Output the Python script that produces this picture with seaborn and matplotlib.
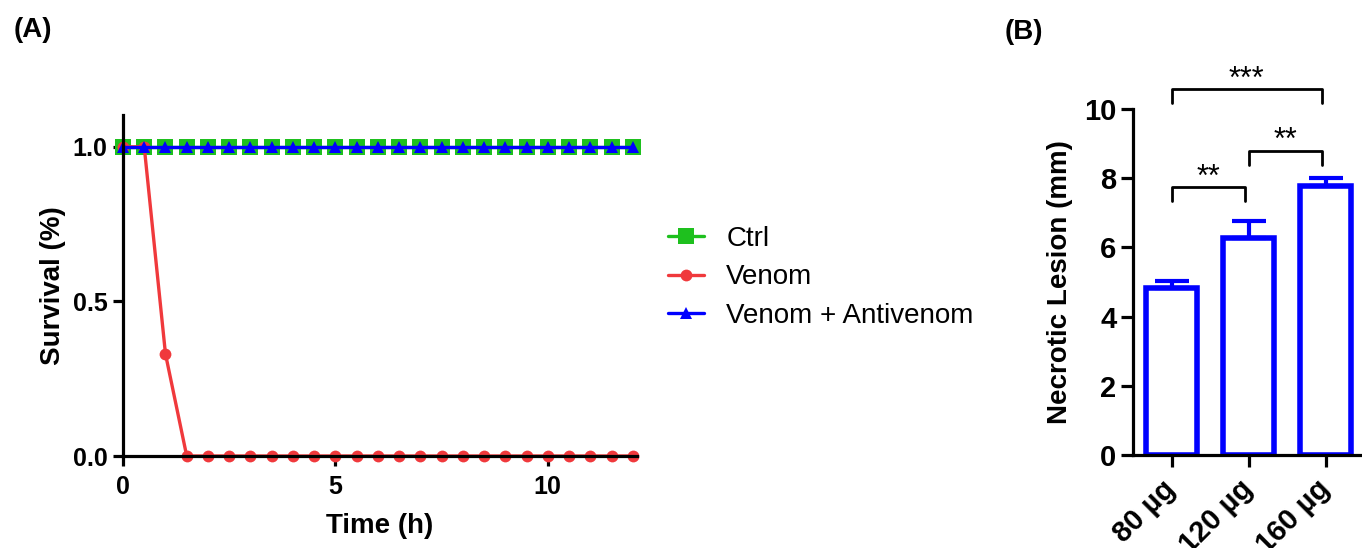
import pandas as pd
import seaborn as sns
import matplotlib.pyplot as plt

# Panel A: survival over time (every 0.5 h)
time_h = [0, 0.5, 1, 1.5, 2, 2.5, 3, 3.5, 4, 4.5, 5, 5.5, 6, 6.5, 7, 7.5,
          8, 8.5, 9, 9.5, 10, 10.5, 11, 11.5, 12]
ctrl = [1.0, 1.0, 1.0, 1.0, 1.0, 1.0, 1.0, 1.0, 1.0, 1.0, 1.0, 1.0, 1.0,
        1.0, 1.0, 1.0, 1.0, 1.0, 1.0, 1.0, 1.0, 1.0, 1.0, 1.0, 1.0]
venom = [1.0, 1.0, 0.33, 0.0, 0.0, 0.0, 0.0, 0.0, 0.0, 0.0, 0.0, 0.0, 0.0,
         0.0, 0.0, 0.0, 0.0, 0.0, 0.0, 0.0, 0.0, 0.0, 0.0, 0.0, 0.0]
venom_antivenom = [1.0, 1.0, 1.0, 1.0, 1.0, 1.0, 1.0, 1.0, 1.0, 1.0, 1.0,
                   1.0, 1.0, 1.0, 1.0, 1.0, 1.0, 1.0, 1.0, 1.0, 1.0, 1.0,
                   1.0, 1.0, 1.0]
groups = ["Ctrl", "Venom", "Venom + Antivenom"]

# Panel B: necrotic lesion by dose
doses = ["80 µg", "120 µg", "160 µg"]
lesion_mean = [4.83, 6.27, 7.77]
lesion_sem = [0.20, 0.49, 0.23]
sig_pairs = [(0, 1), (1, 2), (0, 2)]
sig_labels = ["**", "**", "***"]

sns.set_style("ticks")
plt.rcParams["font.family"] = ["Liberation Sans", "DejaVu Sans"]
plt.rcParams["font.weight"] = "bold"
plt.rcParams["axes.labelweight"] = "bold"
for k in ("text.color", "axes.labelcolor", "xtick.color", "ytick.color",
          "axes.edgecolor"):
    plt.rcParams[k] = "black"

surv = pd.DataFrame({
    "Time": time_h * 3,
    "Survival": ctrl + venom + venom_antivenom,
    "Group": ["Ctrl"] * len(time_h) + ["Venom"] * len(time_h)
             + ["Venom + Antivenom"] * len(time_h),
})
lesion = pd.DataFrame({"Dose": doses, "Lesion": lesion_mean})

fig = plt.figure(figsize=(13.62, 5.48), dpi=100)
axa = fig.add_axes([123 / 1362, 92 / 548, 514 / 1362, 341 / 548])
axb = fig.add_axes([1133 / 1362, 93 / 548, 231 / 1362, 346 / 548])

palette = {"Ctrl": "#1ec01e", "Venom": "#f0393c", "Venom + Antivenom": "#0000ff"}
markers = {"Ctrl": "s", "Venom": "o", "Venom + Antivenom": "^"}
sizes = {"Ctrl": 11, "Venom": 8.5, "Venom + Antivenom": 8.5}

for g in groups:
    sns.lineplot(data=surv[surv["Group"] == g], x="Time", y="Survival",
                 color=palette[g], marker=markers[g], markersize=sizes[g],
                 markeredgewidth=0, linewidth=2.4, label=g, ax=axa,
                 clip_on=False)

axa.set_xlim(0, 12.1)
axa.set_ylim(0, 1.103)
axa.set_xticks([0, 5, 10])
axa.set_yticks([0.0, 0.5, 1.0])
axa.set_yticklabels(["0.0", "0.5", "1.0"])
axa.set_xlabel("Time (h)", fontsize=20, labelpad=10)
axa.set_ylabel("Survival (%)", fontsize=20, labelpad=5)
leg = axa.legend(loc="center left", bbox_to_anchor=(643 / 1362, 0.494),
                 bbox_transform=fig.transFigure, frameon=False,
                 prop={"size": 20, "weight": "normal"}, handlelength=1.3,
                 handletextpad=0.8, labelspacing=0.45)

sns.barplot(data=lesion, x="Dose", y="Lesion", ax=axb, color="white",
            edgecolor="#0000ff", linewidth=4, width=0.66, errorbar=None,
            saturation=1)
axb.errorbar(x=[0, 1, 2], y=lesion_mean, yerr=[[0, 0, 0], lesion_sem],
             fmt="none", ecolor="#0000ff", elinewidth=3, capsize=12,
             capthick=3, zorder=3)
axb.set_xlim(-0.5, 2.5)
axb.set_ylim(0, 10)
axb.set_yticks([0, 2, 4, 6, 8, 10])
axb.set_xlabel("")
axb.set_ylabel("Necrotic Lesion (mm)", fontsize=20, labelpad=8)
axb.set_xticks([0, 1, 2])
axb.set_xticklabels(doses, rotation=45, ha="right", va="center",
                    rotation_mode="anchor")

# significance brackets
bracket_y = [7.75, 8.8, 10.58]
for (i, j), lab, y in zip(sig_pairs, sig_labels, bracket_y):
    x1, x2 = i, j - 0.05
    axb.plot([x1, x1, x2, x2], [y - 0.42, y, y, y - 0.42], color="black",
             linewidth=2, clip_on=False)
    axb.text((x1 + x2) / 2, y - 0.17, lab, ha="center", va="bottom",
             fontsize=22, fontweight="normal")

for ax in (axa, axb):
    sns.despine(ax=ax)
    for s in ("left", "bottom"):
        ax.spines[s].set_linewidth(2.3)
    ax.tick_params(width=2.3, length=7.5)
axa.tick_params(labelsize=18)
axa.tick_params(axis="x", pad=6)
axb.tick_params(labelsize=21, length=8.5)
axb.tick_params(axis="x", pad=13)
for ax in (axa, axb):
    for t in ax.get_xticklabels() + ax.get_yticklabels():
        t.set_fontweight("bold")

fig.text(14 / 1362, 1 - 30 / 548, "(A)", fontsize=20, fontweight="bold",
         va="center")
fig.text(1005 / 1362, 1 - 32 / 548, "(B)", fontsize=20, fontweight="bold",
         va="center")

fig.savefig("out.png", dpi=100, facecolor="white")
